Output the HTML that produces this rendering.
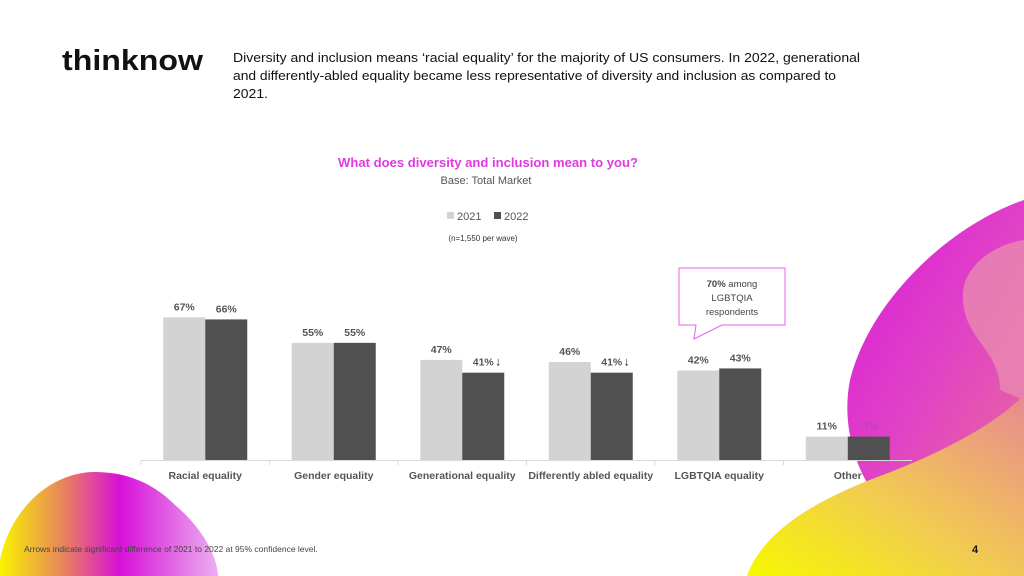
<!DOCTYPE html>
<html><head><meta charset="utf-8">
<style>
html,body{margin:0;padding:0;background:#fff;}
svg{display:block;font-family:"Liberation Sans",sans-serif;}
</style></head>
<body>
<svg id="chart" width="1024" height="576" viewBox="0 0 1024 576" xmlns="http://www.w3.org/2000/svg">
<defs>
  <linearGradient id="gPink" x1="0" y1="0" x2="1" y2="1">
    <stop offset="0" stop-color="#d81ad8"/><stop offset="0.5" stop-color="#e040c8"/><stop offset="1" stop-color="#e86a9a"/>
  </linearGradient>
  <linearGradient id="gYel" x1="0" y1="1" x2="1" y2="0">
    <stop offset="0" stop-color="#f6f800"/><stop offset="0.45" stop-color="#f2cc50"/><stop offset="1" stop-color="#e88a90"/>
  </linearGradient>
  <linearGradient id="gLeft" x1="0" y1="0" x2="1" y2="0">
    <stop offset="0" stop-color="#f8f400"/><stop offset="0.3" stop-color="#e88060"/><stop offset="0.55" stop-color="#d810d8"/><stop offset="1" stop-color="#ebb0f0"/>
  </linearGradient>
</defs>
<g>
  <path d="M1024,200 C950,225 870,300 850,380 C840,430 860,480 880,500 L1024,500 Z" fill="url(#gPink)"/>
  <path d="M1024,240 C990,245 960,270 963,300 C965,340 1000,350 1000,390 L1024,400 Z" fill="#e88ab0" opacity="0.8"/>
  <path d="M747,576 C765,525 830,495 880,476 C950,450 1000,420 1024,395 L1024,576 Z" fill="url(#gYel)"/>
  <path d="M0,560 C10,510 50,472 95,472 C135,472 160,490 175,505 C205,530 218,560 218,576 L0,576 Z" fill="url(#gLeft)"/>
</g>
<text x="62" y="70" font-size="29" font-weight="bold" fill="#111" textLength="141" lengthAdjust="spacingAndGlyphs">thinknow</text>
<g font-size="13" fill="#111">
  <text x="233" y="62" textLength="627" lengthAdjust="spacingAndGlyphs">Diversity and inclusion means ‘racial equality’ for the majority of US consumers. In 2022, generational</text>
  <text x="233" y="80" textLength="603" lengthAdjust="spacingAndGlyphs">and differently-abled equality became less representative of diversity and inclusion as compared to</text>
  <text x="233" y="98" textLength="35" lengthAdjust="spacingAndGlyphs">2021.</text>
</g>
<text x="488" y="167" text-anchor="middle" font-size="13" font-weight="bold" fill="#e03ae0" textLength="300" lengthAdjust="spacingAndGlyphs">What does diversity and inclusion mean to you?</text>
<text x="486" y="184" text-anchor="middle" font-size="11" fill="#555">Base: Total Market</text>
<g font-size="11" fill="#555">
  <rect x="447" y="212" width="7" height="7" fill="#d3d3d3"/>
  <text x="457" y="220">2021</text>
  <rect x="494" y="212" width="7" height="7" fill="#505050"/>
  <text x="504" y="220">2022</text>
</g>
<text x="483" y="241" text-anchor="middle" font-size="8" fill="#333">(n=1,550 per wave)</text>
<g>
  <path d="M679,268 L785,268 L785,325 L722,325 L694,339 L696,325 L679,325 Z" fill="#fff" stroke="#e860e8" stroke-width="1"/>
  <text x="732" y="287" text-anchor="middle" font-size="9.5" fill="#444"><tspan font-weight="bold">70%</tspan> among</text>
  <text x="732" y="301" text-anchor="middle" font-size="9.5" fill="#444">LGBTQIA</text>
  <text x="732" y="315" text-anchor="middle" font-size="9.5" fill="#444">respondents</text>
</g>
<g id="plot"></g>
<text x="24" y="552" font-size="8.5" fill="#444">Arrows indicate significant difference of 2021 to 2022 at 95% confidence level.</text>
<text x="972" y="553" font-size="11" font-weight="bold" fill="#111">4</text>
</svg>
<script>
const categories = ["Racial equality","Gender equality","Generational equality","Differently abled equality","LGBTQIA equality","Other"];
const values2021 = [67,55,47,46,42,11];
const values2022 = [66,55,41,41,43,11];
const sigDown = [false,false,true,true,false,false];

const NS = "http://www.w3.org/2000/svg";
const plot = document.getElementById("plot");
const x0 = 141, x1 = 912, baseY = 460, pxPerPct = 2.13, barW = 42;
const catW = (x1 - x0) / categories.length;
function xCat(i){ return x0 + i*catW; }
function yVal(v){ return baseY - v*pxPerPct; }
function mk(tag, attrs){ const e = document.createElementNS(NS, tag); for (const k in attrs) e.setAttribute(k, attrs[k]); plot.appendChild(e); return e; }

const axis = mk("line",{x1:x0,y1:baseY+0.5,x2:x1,y2:baseY+0.5,stroke:"#d9d9d9","stroke-width":1});



categories.forEach((c,i)=>{
  const cx = xCat(i) + catW/2;
  const tick = mk("line",{x1:xCat(i),y1:baseY,x2:xCat(i),y2:baseY+5,stroke:"#d9d9d9"});
  
  
  const lab = mk("text",{x:cx,y:baseY+19,"text-anchor":"middle","font-size":"10.5","font-weight":"bold",fill:"#555"});
  lab.textContent = c;
  
  

  const bx1 = cx - barW, bx2 = cx;
  const b1 = mk("rect",{x:bx1,y:yVal(values2021[i]),width:barW,height:values2021[i]*pxPerPct,fill:"#d3d3d3"});
  
  
  const b2 = mk("rect",{x:bx2,y:yVal(values2022[i]),width:barW,height:values2022[i]*pxPerPct,fill:"#505050"});
  
  

  const l1 = mk("text",{x:bx1+barW/2,y:yVal(values2021[i])-7,"text-anchor":"middle","font-size":"10.5","font-weight":"bold",fill:"#555"});
  l1.textContent = values2021[i] + "%";
  
  
  const l2 = mk("text",{x:bx2+barW/2,y:yVal(values2022[i])-7,"text-anchor":"middle","font-size":"10.5","font-weight":"bold",fill: i===5 ? "#c040c0" : "#555"});
  l2.textContent = values2022[i] + "%";
  
  
  if (sigDown[i]) {
    const ar = mk("text",{x:bx2+barW/2+12,y:yVal(values2022[i])-7,"font-size":"12","font-weight":"bold",fill:"#111"});
    ar.textContent = "↓";
    
    
  }
});
</script>
</body></html>
